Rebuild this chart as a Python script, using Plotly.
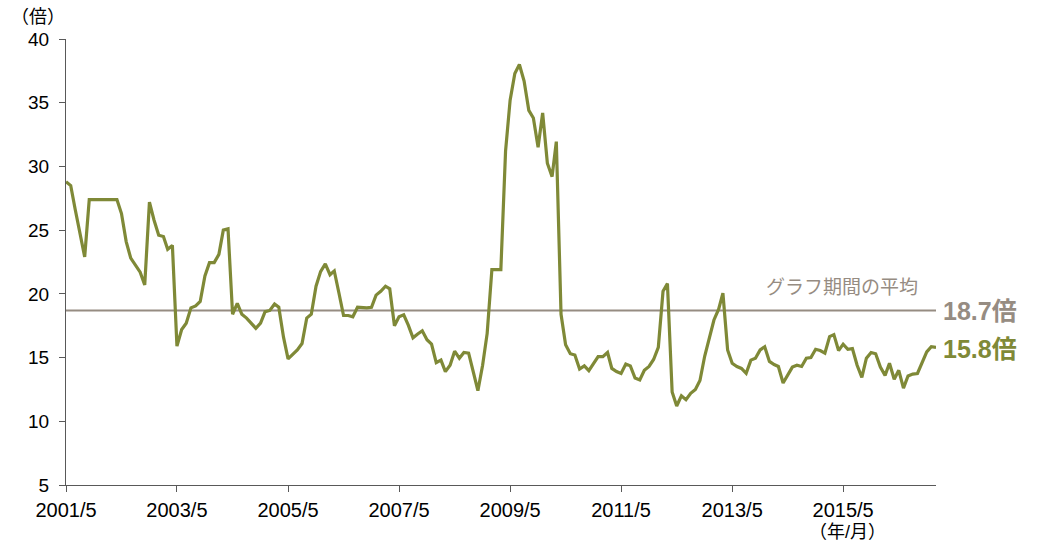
import pandas as pd
import plotly.graph_objects as go

values = [
    28.8, 28.5, 26.6, 24.7, 22.9, 27.4, 27.4, 27.4, 27.4, 27.4, 27.4, 27.4,
    26.3, 24.1, 22.8, 22.3, 21.7, 20.7, 27.2, 25.8, 24.6, 24.5, 23.5, 23.8,
    15.9, 17.2, 17.7, 18.9, 19.05, 19.4, 21.4, 22.45, 22.45, 23.1, 25.0, 25.1,
    18.4, 19.25, 18.4, 18.1, 17.7, 17.3, 17.7, 18.6, 18.7, 19.2, 18.95, 16.6,
    14.9, 15.3, 15.6, 16.1, 18.1, 18.4, 20.6, 21.75, 22.35, 21.5, 21.8, 20.05,
    18.3, 18.3, 18.2, 18.95, 18.9, 18.9, 18.95, 19.9, 20.2, 20.6, 20.4, 17.5,
    18.2, 18.35, 17.55, 16.55, 16.85, 17.1, 16.4, 16.05, 14.6, 14.8, 13.9, 14.4,
    15.5, 14.95, 15.4, 15.35, 13.85, 12.4, 14.4, 16.9, 21.9, 21.9, 21.9, 31.2,
    35.2, 37.3, 38.0, 36.7, 34.4, 33.8, 31.5, 34.2, 30.25, 29.2, 31.95, 18.4,
    16.0, 15.3, 15.2, 14.1, 14.35, 13.97, 14.5, 15.07, 15.07, 15.4, 14.15, 13.9,
    13.75, 14.5, 14.35, 13.4, 13.25, 14.0, 14.3, 14.85, 15.8, 20.2, 20.8, 12.3,
    11.2, 12.0, 11.7, 12.2, 12.5, 13.2, 15.1, 16.6, 17.95, 18.8, 20.05, 15.6,
    14.55, 14.3, 14.15, 13.77, 14.8, 14.95, 15.6, 15.85, 14.7, 14.45, 14.3, 13.0,
    13.6, 14.25, 14.4, 14.3, 14.95, 15.0, 15.65, 15.55, 15.35, 16.65, 16.8, 15.55,
    16.05, 15.65, 15.7, 14.4, 13.45, 14.95, 15.4, 15.3, 14.25, 13.6, 14.55, 13.3,
    14.0, 12.6, 13.55, 13.7, 13.75, 14.55, 15.45, 15.85, 15.8,
]
dates = pd.date_range("2001-05-01", periods=len(values), freq="MS")

average = 18.7
latest = 15.8
tick_dates = ["2001-05-01", "2003-05-01", "2005-05-01", "2007-05-01",
              "2009-05-01", "2011-05-01", "2013-05-01", "2015-05-01"]
tick_labels = ["2001/5", "2003/5", "2005/5", "2007/5",
               "2009/5", "2011/5", "2013/5", "2015/5"]
y_ticks = [5, 10, 15, 20, 25, 30, 35, 40]

olive = "#7f8937"
grey = "#968c82"
font_family = "Liberation Sans, Arial, Noto Sans CJK JP, sans-serif"

fig = go.Figure()
fig.add_trace(go.Scatter(
    x=[dates[0], dates[-1]], y=[average, average], mode="lines",
    line=dict(color=grey, width=2), hoverinfo="skip", showlegend=False))
fig.add_trace(go.Scatter(
    x=dates, y=values, mode="lines",
    line=dict(color=olive, width=3.2), showlegend=False))

fig.update_layout(
    width=1045, height=544,
    margin=dict(l=66, r=109, t=39, b=59),
    paper_bgcolor="white", plot_bgcolor="white",
    font=dict(family=font_family, size=20, color="#000000"),
    xaxis=dict(
        range=[dates[0], dates[-1]], tickvals=tick_dates, ticktext=tick_labels,
        showgrid=False, zeroline=False, showline=True, linecolor="#595959",
        linewidth=1, ticks="outside", ticklen=6, tickcolor="#595959",
        tickfont=dict(size=20), ticklabelstandoff=1),
    yaxis=dict(
        range=[5, 40], tickvals=y_ticks, showgrid=False, zeroline=False,
        showline=True, linecolor="#595959", linewidth=1, ticks="outside",
        ticklen=6, tickcolor="#595959", tickfont=dict(size=19),
        ticklabelstandoff=6),
)

fig.add_annotation(xref="paper", yref="paper", x=(38 - 66) / 870, y=(485 - 17) / 446,
                   xanchor="center", yanchor="middle", text="（倍）",
                   showarrow=False, font=dict(size=18))
fig.add_annotation(xref="paper", yref="paper", x=(847 - 66) / 870, y=(485 - 532) / 446,
                   xanchor="center", yanchor="middle", text="（年/月）",
                   showarrow=False, font=dict(size=18))
fig.add_annotation(xref="paper", yref="y", x=(920 - 66) / 870, y=20.5,
                   xanchor="right", yanchor="middle", text="グラフ期間の平均",
                   showarrow=False, font=dict(size=19, color=grey))
fig.add_annotation(xref="paper", yref="y", x=(941 - 66) / 870, y=average - 0.05,
                   xanchor="left", yanchor="middle", text=f"<b>{average}倍</b>",
                   showarrow=False, font=dict(size=25, color=grey))
fig.add_annotation(xref="paper", yref="y", x=(941 - 66) / 870, y=latest - 0.1,
                   xanchor="left", yanchor="middle", text=f"<b>{latest}倍</b>",
                   showarrow=False, font=dict(size=25, color=olive))

fig.write_html("out.html")
